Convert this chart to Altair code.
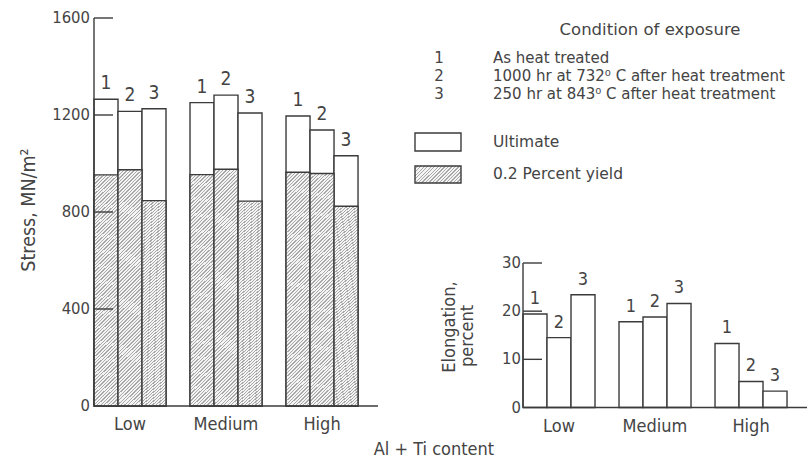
import altair as alt
import pandas as pd

# ---------------- data ----------------
categories = ["Low", "Medium", "High"]
conditions = ["1", "2", "3"]
ultimate = [1265, 1215, 1226, 1251, 1282, 1208, 1196, 1138, 1032]
yield_02 = [953, 974, 847, 954, 976, 845, 964, 959, 824]
elongation = [19.4, 14.5, 23.4, 17.8, 18.8, 21.6, 13.3, 5.4, 3.4]
stress_ticks = [0, 400, 800, 1200, 1600]
elong_ticks = [0, 10, 20, 30]
condition_text = [
    "As heat treated",
    "1000 hr at 732\u2070 C after heat treatment",
    "250 hr at 843\u2070 C after heat treatment",
]

rows = []
i = 0
for c in categories:
    for k in conditions:
        rows.append(dict(cat=c, cond=k, ult=ultimate[i], yld=yield_02[i], elong=elongation[i]))
        i += 1
df = pd.DataFrame(rows)
cat_df = pd.DataFrame({"cat": categories})

# ---------------- styles ----------------
INK = "#3b3b3b"
TXT = "#444444"
FONT = "DejaVu Sans Condensed"
LFONT = "DejaVu Sans"
SW = 1.4

MAIN_X = [94, 378]
MAIN_Y = [406, 18]
EL_X = [523, 807]
EL_Y = [407.5, 263]


def hatch(x2, y2, n, dark_frac=0.4):
    light, dark = "#f4f4f4", "#a9a9a9"
    stops = []
    p = 1.0 / n
    for j in range(n):
        t0 = j * p
        t1 = t0 + (1 - dark_frac) * p
        t2 = min(1.0, t0 + p)
        stops += [
            {"color": light, "offset": round(t0, 5)},
            {"color": light, "offset": round(t1, 5)},
            {"color": dark, "offset": round(t1, 5)},
            {"color": dark, "offset": round(t2, 5)},
        ]
    return {"gradient": "linear", "x1": 0, "y1": 0, "x2": x2, "y2": y2, "stops": stops}


HATCH_BAR = hatch(0.1089, 1.089, 75)
HATCH_SW = hatch(1.2, 0.444, 18)

xoff = alt.XOffset("cond:N", sort=conditions,
                   scale=alt.Scale(domain=conditions, paddingInner=0, paddingOuter=0))


def xenc(rng):
    return alt.X("cat:N", sort=categories,
                 scale=alt.Scale(domain=categories, range=rng, paddingInner=0.25,
                                 paddingOuter=0.104, align=0),
                 axis=None)


base = alt.Chart(df)

# ---------------- main stress chart ----------------
ys_main = alt.Scale(domain=[0, 1600], range=MAIN_Y)
ext_main = pd.DataFrame({"lo": [stress_ticks[0]], "hi": [stress_ticks[-1]]})
tick_main = pd.DataFrame({"v": stress_ticks})

m_ult = base.mark_bar(fill="white", stroke=INK, strokeWidth=SW).encode(
    x=xenc(MAIN_X), xOffset=xoff,
    y=alt.Y("ult:Q", scale=ys_main, axis=None, stack=None))
m_yld = base.mark_bar(fill=HATCH_BAR, stroke=INK, strokeWidth=SW).encode(
    x=xenc(MAIN_X), xOffset=xoff,
    y=alt.Y("yld:Q", scale=ys_main, axis=None, stack=None))
m_lab = base.mark_text(baseline="bottom", dy=-6, font=FONT, fontSize=19, color=TXT).encode(
    x=xenc(MAIN_X), xOffset=xoff,
    y=alt.Y("ult:Q", scale=ys_main, axis=None, stack=None), text="cond:N")
m_ticks = alt.Chart(tick_main[tick_main.v > 0]).mark_rule(color=INK, strokeWidth=SW).encode(
    y=alt.Y("v:Q", scale=ys_main, axis=None), x=alt.value(94), x2=alt.value(113))
m_ydom = alt.Chart(ext_main).mark_rule(color=INK, strokeWidth=SW).encode(
    x=alt.value(94), y=alt.Y("lo:Q", scale=ys_main, axis=None), y2="hi:Q")
m_xdom = alt.Chart(ext_main).mark_rule(color=INK, strokeWidth=SW).encode(
    x=alt.value(94), x2=alt.value(378), y=alt.Y("lo:Q", scale=ys_main, axis=None))
m_ylab = alt.Chart(tick_main).mark_text(align="right", baseline="middle", font=FONT,
                                         fontSize=16.5, color=TXT).encode(
    y=alt.Y("v:Q", scale=ys_main, axis=None), x=alt.value(90),
    text=alt.Text("v:Q", format="d"))
m_xlab = alt.Chart(cat_df).mark_text(align="center", baseline="middle", font=FONT,
                                      fontSize=18, color=TXT).encode(
    x=xenc(MAIN_X), y=alt.value(425), text="cat:N")
main = alt.layer(m_ult, m_yld, m_ticks, m_ydom, m_xdom, m_lab, m_ylab, m_xlab)

# ---------------- elongation chart ----------------
ys_el = alt.Scale(domain=[0, 30], range=EL_Y)
ext_el = pd.DataFrame({"lo": [elong_ticks[0]], "hi": [elong_ticks[-1]]})
tick_el = pd.DataFrame({"v": elong_ticks})

e_bar = base.mark_bar(fill="white", stroke=INK, strokeWidth=SW).encode(
    x=xenc(EL_X), xOffset=xoff,
    y=alt.Y("elong:Q", scale=ys_el, axis=None, stack=None))
e_lab = base.mark_text(baseline="bottom", dy=-6, font=FONT, fontSize=18, color=TXT).encode(
    x=xenc(EL_X), xOffset=xoff,
    y=alt.Y("elong:Q", scale=ys_el, axis=None, stack=None), text="cond:N")
e_ticks = alt.Chart(tick_el[tick_el.v > 0]).mark_rule(color=INK, strokeWidth=SW).encode(
    y=alt.Y("v:Q", scale=ys_el, axis=None), x=alt.value(523), x2=alt.value(542))
e_ydom = alt.Chart(ext_el).mark_rule(color=INK, strokeWidth=SW).encode(
    x=alt.value(523), y=alt.Y("lo:Q", scale=ys_el, axis=None), y2="hi:Q")
e_xdom = alt.Chart(ext_el).mark_rule(color=INK, strokeWidth=SW).encode(
    x=alt.value(523), x2=alt.value(807), y=alt.Y("lo:Q", scale=ys_el, axis=None))
e_ylab = alt.Chart(tick_el).mark_text(align="right", baseline="middle", font=FONT,
                                       fontSize=16.5, color=TXT).encode(
    y=alt.Y("v:Q", scale=ys_el, axis=None), x=alt.value(521),
    text=alt.Text("v:Q", format="d"))
e_xlab = alt.Chart(cat_df).mark_text(align="center", baseline="middle", font=FONT,
                                      fontSize=18, color=TXT).encode(
    x=xenc(EL_X), y=alt.value(427), text="cat:N")
elong = alt.layer(e_bar, e_ticks, e_ydom, e_xdom, e_lab, e_ylab, e_xlab)

# ---------------- titles & legend ----------------
one = pd.DataFrame({"a": [0]})


def label(text, x, y, size, align="left", angle=0, font=FONT):
    kw = dict(text=text, font=font, fontSize=size, color=TXT, align=align, baseline="middle")
    if angle:
        kw["angle"] = angle
    return alt.Chart(one).mark_text(**kw).encode(x=alt.value(x), y=alt.value(y))


extras = [
    label("Stress,  MN/m\u00b2", 29, 210, 19.5, align="center", angle=270),
    label("Elongation,", 450, 327, 18, align="center", angle=270),
    label("percent", 468, 336, 18, align="center", angle=270),
    label("Al + Ti content", 434, 450, 18, align="center"),
    label("Condition of exposure", 650, 30, 16.5, align="center", font=LFONT),
]
for j, (num, txt) in enumerate(zip(conditions, condition_text)):
    yy = 58 + 18 * j
    extras.append(label(num, 439, yy, 15, align="center", font=LFONT))
    extras.append(label(txt, 493, yy, 15, font=LFONT))

extras.append(alt.Chart(one).mark_rect(fill="white", stroke=INK, strokeWidth=SW).encode(
    x=alt.value(415), x2=alt.value(461), y=alt.value(133), y2=alt.value(151)))
extras.append(alt.Chart(one).mark_rect(fill=HATCH_SW, stroke=INK, strokeWidth=SW).encode(
    x=alt.value(415), x2=alt.value(461), y=alt.value(166), y2=alt.value(183)))
extras.append(label("Ultimate", 493, 142, 15.5, font=LFONT))
extras.append(label("0.2 Percent yield", 493, 174, 15.5, font=LFONT))

chart = alt.layer(main, elong, *extras).resolve_scale(
    x="independent", y="independent", xOffset="independent"
).properties(
    width=812, height=460, autosize="none", padding=0, background="white"
).configure_view(stroke=None)

chart.save("out.html", embed_options={"renderer": "svg", "actions": False})
